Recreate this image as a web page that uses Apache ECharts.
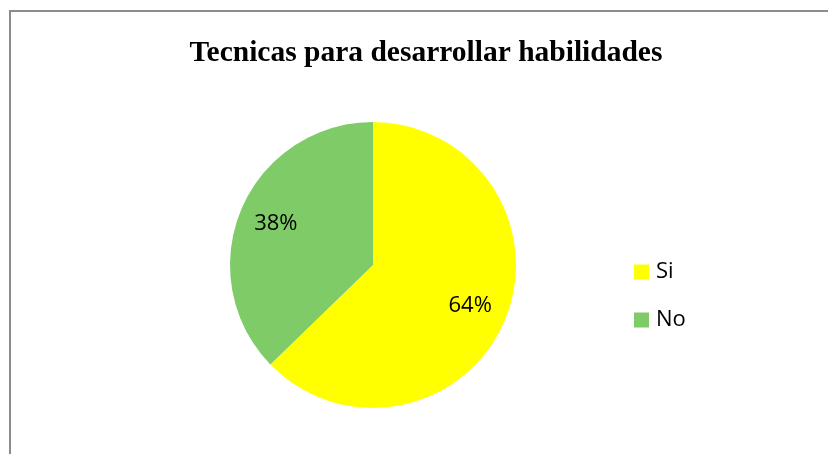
<!DOCTYPE html>
<html>
<head>
<meta charset="utf-8">
<script src="https://cdn.jsdelivr.net/npm/echarts@6/dist/echarts.min.js"></script>
<style>
  html, body { margin: 0; padding: 0; background: #fff; }
  #frame {
    position: absolute; left: 9px; top: 10px; width: 830px; height: 460px;
    border-top: 2px solid #8c8c8c; border-left: 2px solid #8c8c8c;
  }
  #chart { position: absolute; left: 0; top: 0; width: 828px; height: 454px; }
</style>
</head>
<body>
<div id="frame"></div>
<div id="chart"></div>
<script>
// Tecnicas para desarrollar habilidades — pie Si / No
const categories = ['Si', 'No'];
const values = [64, 38];          // shown as printed in the slices
const colors = ['#ffff00', '#7ecb67'];

const chart = echarts.init(document.getElementById('chart'));

const pieData = categories.map(function (name, i) {
  return { name: name, value: values[i], itemStyle: { color: colors[i] } };
});

chart.setOption({
  animation: false,
  title: {
    text: 'Tecnicas para desarrollar habilidades',
    left: 421,
    top: 33,
    textAlign: 'center',
    textStyle: {
      fontFamily: 'Liberation Serif',
      fontWeight: 'bold',
      fontSize: 29.5,
      color: '#000'
    }
  },
  legend: {
    orient: 'vertical',
    left: 629,
    top: 256,
    itemWidth: 15,
    itemHeight: 15,
    itemGap: 26,
    icon: 'rect',
    data: categories,
    textStyle: {
      fontFamily: 'Open Sans', fontSize: 22, lineHeight: 22,
      color: '#000', padding: [0, 0, 0, 2]
    }
  },
  series: [
    {
      // visible pie
      type: 'pie',
      center: [373, 265],
      radius: 143,
      startAngle: 90,
      clockwise: true,
      label: { show: false },
      labelLine: { show: false },
      emphasis: { disabled: true },
      data: pieData
    },
    {
      // transparent ring used only to place the % labels further out
      type: 'pie',
      center: [373, 265],
      radius: [62, 143],
      startAngle: 90,
      clockwise: true,
      silent: true,
      itemStyle: { color: 'rgba(0,0,0,0)' },
      label: {
        show: true,
        position: 'inside',
        formatter: '{c}%',
        fontFamily: 'Open Sans',
        fontSize: 22,
        color: '#000'
      },
      labelLine: { show: false },
      emphasis: { disabled: true },
      data: categories.map(function (name, i) {
        return { name: name, value: values[i] };
      })
    }
  ]
});
</script>
</body>
</html>
